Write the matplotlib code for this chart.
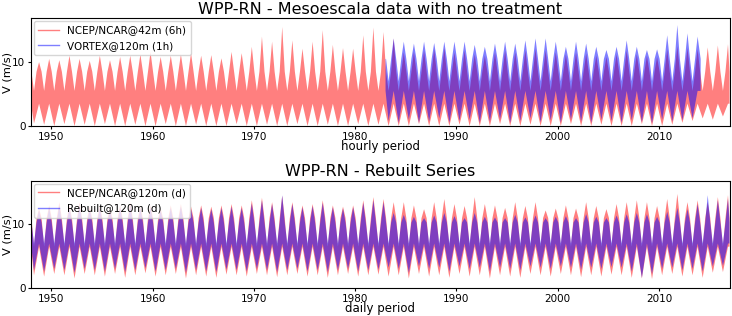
import numpy as np
import matplotlib
matplotlib.use("Agg")
import matplotlib.pyplot as plt
from matplotlib.lines import Line2D

# years covered by the NCEP/NCAR reanalysis
years = list(range(1948, 2017))

# --- top panel: raw mesoscale data (values read per year, m/s) ---
# yearly peak of the windy season, NCEP/NCAR@42m (6h)
ncep42_peak = [10.0, 10.5, 10.3, 11.0, 10.5, 10.2, 11.0, 10.3, 10.8, 11.0,
               11.2, 11.6, 10.8, 11.0, 11.2, 11.4, 11.0, 11.1, 10.6, 11.6,
               11.4, 12.4, 14.0, 13.2, 15.5, 13.4, 12.1, 13.2, 15.0, 12.7,
               12.2, 12.1, 14.2, 15.4, 14.7, 13.7, 11.5, 11.6, 11.8, 12.0,
               12.2, 11.5, 11.8, 11.2, 11.0, 11.5, 11.8, 11.5, 11.8, 12.0,
               11.8, 11.5, 11.2, 11.5, 11.3, 11.0, 10.8, 11.2, 11.8, 11.2,
               11.0, 10.8, 12.0, 12.5, 12.2, 12.0, 12.3, 12.6, 12.8]
# yearly minimum of the calm season
ncep42_low = [0.4, 0.2, 0.0, 0.3, 0.0, 0.2, 0.0, 0.3, 0.0, 0.0,
              0.2, 0.0, 0.0, 0.3, 0.0, 0.0, 0.2, 0.0, 0.0, 0.0,
              0.3, 0.0, 0.0, 0.2, 0.0, 0.0, 0.3, 0.0, 0.0, 0.2,
              0.0, 0.0, 0.3, 0.0, 0.2, 0.0, 0.0, 0.0, 0.3, 0.0,
              0.0, 0.0, 0.2, 0.0, 0.0, 0.0, 0.3, 0.0, 0.0, 0.2,
              0.0, 0.0, 0.0, 0.3, 0.0, 0.0, 0.2, 0.0, 0.0, 0.0,
              0.3, 0.0, 0.0, 0.2, 0.5, 0.8, 1.2, 1.0, 1.5]
# envelope levels: windy-season body top, calm-season top, windy-season bottom
ncep42_body = [8.5, 5.5, 3.5]

vortex_years = list(range(1983, 2014))
vortex_peak = [13.7, 13.2, 12.9, 13.2, 13.0, 13.2, 13.2, 13.2, 12.7, 12.4,
               12.9, 13.2, 12.9, 13.4, 13.7, 13.7, 13.2, 12.4, 13.2, 12.9,
               12.4, 11.9, 12.4, 13.4, 12.4, 11.9, 12.0, 14.2, 15.8, 14.5,
               14.0]
vortex_low = [0.8, 0.5, 1.0, 0.5, 0.7, 1.2, 0.5, 0.8, 1.0, 0.5,
              0.7, 1.0, 0.5, 0.8, 1.2, 0.6, 0.9, 0.5, 1.0, 0.7,
              0.5, 1.0, 0.8, 0.5, 0.9, 0.6, 0.4, 1.0, 0.7, 0.9,
              1.2]
vortex_body = [10.5, 7.0, 5.5]

# --- bottom panel: rebuilt daily series at 120 m ---
ncep120_peak = [12.5, 13.0, 13.5, 13.0, 13.5, 12.8, 13.0, 12.5, 13.0, 13.5,
                12.8, 13.0, 12.5, 13.0, 13.2, 12.8, 13.0, 12.8, 13.0, 13.2,
                13.0, 13.8, 14.2, 13.5, 14.5, 13.5, 13.0, 13.2, 13.8, 13.0,
                12.8, 13.0, 13.8, 14.3, 14.0, 13.5, 13.5, 13.0, 12.4, 13.5,
                14.0, 13.2, 12.9, 14.3, 13.2, 13.0, 12.6, 13.5, 12.9, 13.5,
                12.2, 12.5, 13.0, 12.5, 13.5, 12.9, 12.4, 13.2, 13.5, 13.8,
                13.5, 12.9, 14.0, 14.8, 13.5, 13.8, 13.5, 14.3, 14.6]
ncep120_low = [2.0, 1.8, 2.2, 2.0, 1.5, 2.2, 2.0, 1.8, 2.2, 1.6,
               2.0, 2.3, 1.8, 2.0, 2.2, 1.5, 2.0, 1.8, 1.6, 2.1,
               2.0, 1.8, 2.2, 2.0, 1.7, 2.0, 2.2, 1.8, 2.0, 1.6,
               2.0, 2.2, 1.8, 2.0, 2.1, 1.8, 2.0, 1.5, 2.2, 1.8,
               2.0, 1.6, 2.2, 1.8, 2.0, 1.5, 2.0, 1.8, 1.6, 2.2,
               2.0, 1.8, 2.2, 2.0, 1.7, 2.0, 1.8, 2.1, 2.0, 1.6,
               1.5, 1.4, 2.0, 2.2, 1.8, 2.0, 1.6, 2.4, 2.5]
ncep120_body = [11.0, 6.5, 6.5]

rebuilt_peak = [12.2, 12.6, 13.0, 12.6, 13.0, 12.4, 12.6, 12.2, 12.6, 13.0,
                12.5, 12.6, 12.2, 12.6, 12.8, 12.4, 12.6, 12.4, 12.6, 12.8,
                12.6, 13.3, 13.8, 13.2, 14.6, 13.2, 12.7, 12.9, 13.4, 12.7,
                12.5, 12.7, 13.4, 13.8, 13.5, 11.8, 11.5, 11.2, 11.0, 11.4,
                11.8, 11.3, 11.0, 11.8, 11.2, 11.1, 11.0, 11.5, 11.1, 11.4,
                11.0, 11.2, 11.3, 11.0, 11.6, 11.2, 11.0, 11.4, 11.6, 11.8,
                11.6, 11.2, 12.0, 12.6, 12.4, 13.2, 14.6, 13.8, 14.0]
rebuilt_low = [2.8, 2.6, 3.0, 2.8, 2.4, 3.0, 2.8, 2.6, 3.0, 2.5,
               2.8, 3.1, 2.6, 2.8, 3.0, 2.4, 2.8, 2.6, 2.5, 2.9,
               2.8, 2.6, 3.0, 2.8, 2.5, 2.8, 3.0, 2.6, 2.8, 2.5,
               2.8, 3.0, 2.6, 2.8, 2.9, 3.2, 3.0, 2.4, 3.4, 3.0,
               3.2, 2.6, 3.4, 3.0, 3.2, 2.6, 3.2, 3.0, 2.8, 3.4,
               3.2, 3.0, 3.4, 3.2, 2.9, 3.2, 3.0, 3.3, 3.2, 2.6,
               1.6, 2.2, 3.0, 3.2, 2.8, 3.0, 2.6, 3.4, 3.5]
rebuilt_body = [10.3, 7.0, 7.0]

# position of the season points inside a year
UP_PHASES = [0.05, 0.3, 0.55, 0.8]
DN_PHASES = [0.3, 0.8]


def outline(yrs, peak, low, body, start, end):
    body_top, calm_top, windy_bot = body
    xu, up = [start], [body_top]
    xd, dn = [start], [windy_bot]
    for y, p, lo in zip(yrs, peak, low):
        xu += [y + ph for ph in UP_PHASES]
        up += [body_top, calm_top, body_top, p]
        xd += [y + ph for ph in DN_PHASES]
        dn += [lo, windy_bot]
    xu.append(end)
    up.append(body_top)
    xd.append(end)
    dn.append(windy_bot)
    xs = np.concatenate([xu, xd[::-1]])
    ys = np.concatenate([up, dn[::-1]])
    return xs, ys


def draw(ax, yrs, peak, low, body, start, end, color):
    xs, ys = outline(yrs, peak, low, body, start, end)
    ax.fill(xs, ys, color=color, alpha=0.5, lw=0)


fig = plt.figure(figsize=(7.32, 3.16), dpi=100)
ax1 = fig.add_axes([0.0423, 0.601, 0.955, 0.342])
ax2 = fig.add_axes([0.0423, 0.0886, 0.955, 0.340])

draw(ax1, years, ncep42_peak, ncep42_low, ncep42_body, 1948.0, 2016.95, "r")
draw(ax1, vortex_years, vortex_peak, vortex_low, vortex_body,
     1983.0, 2014.1, "b")
draw(ax2, years, ncep120_peak, ncep120_low, ncep120_body, 1948.0, 2016.95, "r")
draw(ax2, years, rebuilt_peak, rebuilt_low, rebuilt_body, 1948.0, 2016.95, "b")

titles = ["WPP-RN - Mesoescala data with no treatment", "WPP-RN - Rebuilt Series"]
xlabels = ["hourly period", "daily period"]
legends = [["NCEP/NCAR@42m (6h)", "VORTEX@120m (1h)"],
           ["NCEP/NCAR@120m (d)", "Rebuilt@120m (d)"]]

for ax, t, xl, lg in zip([ax1, ax2], titles, xlabels, legends):
    ax.set_xlim(1948.0, 2017.0)
    ax.set_ylim(0, 16.9)
    ax.set_xticks([1950, 1960, 1970, 1980, 1990, 2000, 2010])
    ax.set_yticks([0, 10])
    ax.tick_params(labelsize=7.5, length=2.5, pad=1.5)
    ax.set_title(t, fontsize=11.5, pad=3)
    ax.set_xlabel(xl, fontsize=8.5, labelpad=-1)
    ax.set_ylabel("V (m/s)", fontsize=8.2, labelpad=0)
    handles = [Line2D([], [], color="r", alpha=0.5, lw=1),
               Line2D([], [], color="b", alpha=0.5, lw=1)]
    ax.legend(handles, lg, loc="upper left", fontsize=7.5, borderaxespad=0.3,
              handlelength=2.0, labelspacing=0.55, framealpha=0.8)

fig.savefig("out.png", dpi=100)
